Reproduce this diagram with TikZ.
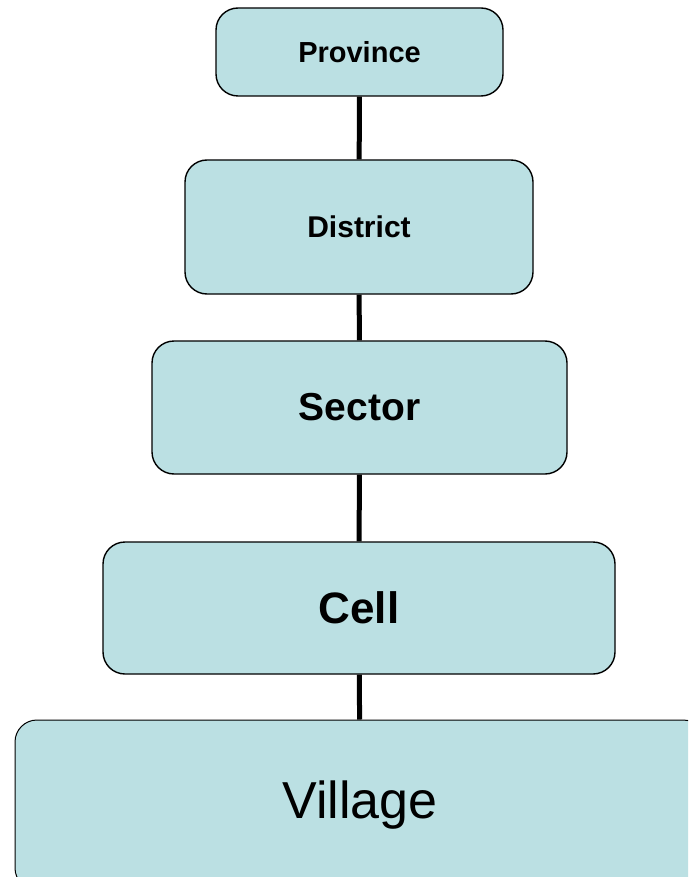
\documentclass[tikz,border=0pt]{standalone}
\usepackage{fontspec}
\setmainfont{Liberation Sans}
\definecolor{boxblue}{RGB}{187,224,227}
\tikzset{
    unit/.style={rectangle, rounded corners=22pt, draw=black, line width=1.4pt, fill=boxblue, inner sep=0pt},
    link/.style={line width=5pt, draw=black}
}

\begin{document}
\begin{tikzpicture}
  [
    x                 = 1pt,
    y                 = -1pt,
  ]
  \useasboundingbox (0,0) rectangle (688,877);
  \clip (0,0) rectangle (688,877);
  % levels of administration
  \node [unit, minimum width=287pt, minimum height=88pt, font=\fontsize{29}{32}\selectfont\bfseries] (province) at (359.5,52) {Province};
  \node [unit, minimum width=348pt, minimum height=134pt, font=\fontsize{30}{33}\selectfont\bfseries] (district) at (359,227) {District};
  \node [unit, minimum width=415pt, minimum height=133pt, font=\fontsize{39}{42}\selectfont\bfseries] (sector) at (359.5,407.5) {Sector};
  \node [unit, minimum width=512pt, minimum height=132pt, font=\fontsize{44}{48}\selectfont\bfseries] (cell) at (359,608) {Cell};
  \node [unit, line width=1pt, minimum width=690pt, minimum height=170pt, font=\fontsize{52}{56}\selectfont] (village) at (360,805) {Village};
  % links
  \draw [link] (province) -- (district);
  \draw [link] (district) -- (sector);
  \draw [link] (sector) -- (cell);
  \draw [link] (cell) -- (village);
\end{tikzpicture}
\end{document}
